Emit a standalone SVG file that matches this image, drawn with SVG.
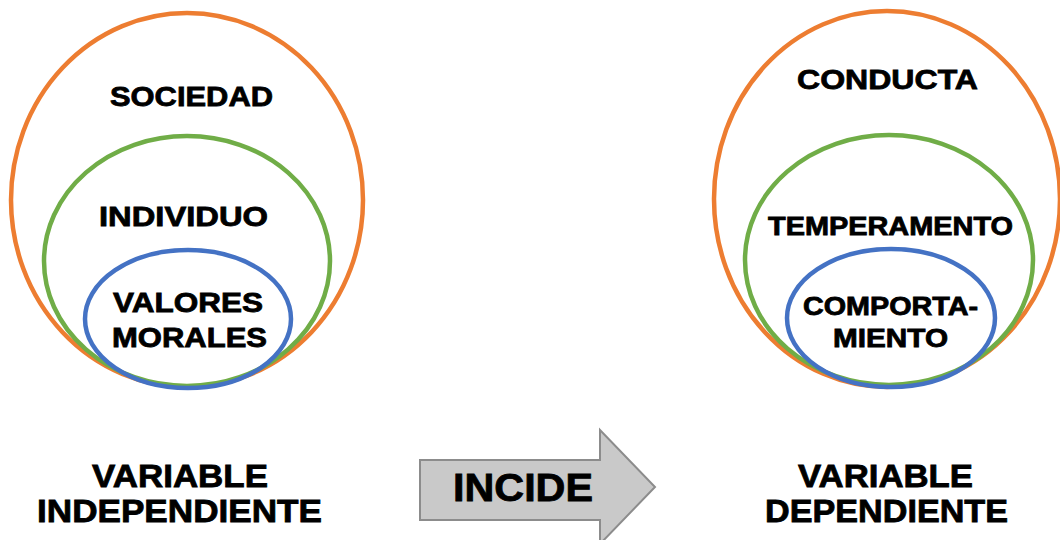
<svg xmlns="http://www.w3.org/2000/svg" width="1060" height="540" viewBox="0 0 1060 540">
<style>
.t{font-family:"Liberation Sans",Arial,sans-serif;font-weight:bold;fill:#000;stroke:#000;stroke-width:0.8;}
.o{fill:none;stroke:#ED7D31;stroke-width:4.5;}
.g{fill:none;stroke:#70AD47;stroke-width:4.5;}
.b{fill:none;stroke:#4472C4;stroke-width:4.5;}
</style>
<rect width="1060" height="540" fill="#fff"/>
<g id="sociedad">
<ellipse class="o" cx="187" cy="200" rx="176" ry="187"/>
<text class="t" x="110" y="106" font-size="28" textLength="163" lengthAdjust="spacingAndGlyphs">SOCIEDAD</text>
</g>
<g id="individuo">
<ellipse class="g" cx="187" cy="261" rx="143" ry="125"/>
<text class="t" x="99" y="226" font-size="27" textLength="169" lengthAdjust="spacingAndGlyphs">INDIVIDUO</text>
</g>
<g id="valores">
<ellipse class="b" cx="188" cy="319" rx="103" ry="69"/>
<text class="t" x="113" y="312" font-size="27" textLength="150" lengthAdjust="spacingAndGlyphs">VALORES</text>
<text class="t" x="112" y="347" font-size="27" textLength="155" lengthAdjust="spacingAndGlyphs">MORALES</text>
</g>
<g id="conducta">
<ellipse class="o" cx="887" cy="199" rx="173" ry="188"/>
<text class="t" x="797" y="89" font-size="28" textLength="181" lengthAdjust="spacingAndGlyphs">CONDUCTA</text>
</g>
<g id="temperamento">
<ellipse class="g" cx="889" cy="260" rx="144" ry="125"/>
<text class="t" x="768" y="235" font-size="25" textLength="245" lengthAdjust="spacingAndGlyphs">TEMPERAMENTO</text>
</g>
<g id="comportamiento">
<ellipse class="b" cx="891" cy="318" rx="104" ry="69"/>
<text class="t" x="803" y="315" font-size="25" textLength="175" lengthAdjust="spacingAndGlyphs">COMPORTA-</text>
<text class="t" x="833" y="347" font-size="25" textLength="115" lengthAdjust="spacingAndGlyphs">MIENTO</text>
</g>
<g id="var-independiente">
<text class="t" x="92" y="487" font-size="32" textLength="176" lengthAdjust="spacingAndGlyphs">VARIABLE</text>
<text class="t" x="37" y="522" font-size="32" textLength="285" lengthAdjust="spacingAndGlyphs">INDEPENDIENTE</text>
</g>
<g id="var-dependiente">
<text class="t" x="798" y="487" font-size="32" textLength="175" lengthAdjust="spacingAndGlyphs">VARIABLE</text>
<text class="t" x="765" y="522" font-size="32" textLength="243" lengthAdjust="spacingAndGlyphs">DEPENDIENTE</text>
</g>
<g id="connectors">
<g id="incide">
<polygon points="420,460 600,460 600,430 655,487 600,544 600,520 420,520" fill="#C9C9C9" stroke="#8C8C8C" stroke-width="2"/>
<text class="t" x="453" y="501" font-size="38" textLength="140" lengthAdjust="spacingAndGlyphs">INCIDE</text>
</g>
</g>
</svg>
